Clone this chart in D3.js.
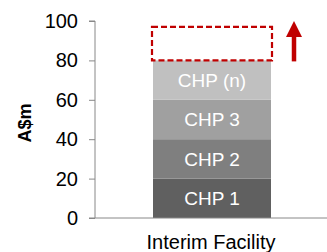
<!DOCTYPE html>
<html><head><meta charset="utf-8">
<script src="https://cdn.jsdelivr.net/npm/d3@7"></script>
<style>body{margin:0;background:#fff}svg{display:block;font-family:"Liberation Sans",Arial,sans-serif}</style>
</head><body><svg id="c" width="327" height="252"></svg>
<script>
const categories = ["Interim Facility"];
const seriesNames = ["CHP 1","CHP 2","CHP 3","CHP (n)"];
const seriesValues = [20,20,20,20];
const seriesColors = ["#606060","#7f7f7f","#a0a0a0","#c0c0c0"];
const upsideTop = 97;
const arrowTop = 100;
const yTicks = [0,20,40,60,80,100];

const svg = d3.select("#c");
const x0 = 95;
const y = d3.scaleLinear().domain([0,100]).range([218,21]);
const xb = d3.scaleBand().domain(categories).range([153, 271]).padding(0);

let acc = 0;
const segs = seriesValues.map((v,i)=>{const s={name:seriesNames[i],y0:acc,y1:acc+v,color:seriesColors[i]};acc+=v;return s;});

const g = svg.append("g");
g.selectAll("rect.seg").data(segs).join("rect").attr("class","seg")
  .attr("x", xb(categories[0])).attr("width", xb.bandwidth())
  .attr("y", d=>y(d.y1)).attr("height", d=>y(d.y0)-y(d.y1))
  .attr("fill", d=>d.color);
g.selectAll("text.seg").data(segs).join("text").attr("class","seg")
  .attr("x", xb(categories[0])+xb.bandwidth()/2)
  .attr("y", d=>(y(d.y0)+y(d.y1))/2)
  .attr("dy","0.35em").attr("text-anchor","middle")
  .attr("fill","#fff").attr("font-size","19px").text(d=>d.name);

// dashed upside box
g.append("rect")
  .attr("x", xb(categories[0])-1).attr("width", xb.bandwidth()+2)
  .attr("y", y(upsideTop)).attr("height", y(acc)-y(upsideTop))
  .attr("fill","none").attr("stroke","#c00000").attr("stroke-width",2.2)
  .attr("stroke-dasharray","6,3");

// arrow
const ax = 294;
const headTop = y(arrowTop), headBase = y(arrowTop)+16;
g.append("line").attr("x1",ax).attr("x2",ax).attr("y1",y(acc)+1).attr("y2",headBase-2)
  .attr("stroke","#c00000").attr("stroke-width",4.5);
g.append("path").attr("d",`M${ax-8},${headBase}L${ax},${headTop}L${ax+8},${headBase}Z`)
  .attr("fill","#c00000");

// y axis
const yAxis = svg.append("g").attr("transform",`translate(${x0},0)`)
  .call(d3.axisLeft(y).tickValues(yTicks).tickSize(6).tickPadding(11));
yAxis.select(".domain").attr("stroke","#888").attr("d",`M-6,${y(100)}H0V${y(0)}`);
yAxis.selectAll(".tick line").attr("stroke","#888");
yAxis.selectAll(".tick text").attr("font-size","20px").attr("fill","#000").attr("font-family","Liberation Sans, Arial, sans-serif");

// x axis line
svg.append("line").attr("x1",x0-6).attr("x2",327).attr("y1",y(0)).attr("y2",y(0)).attr("stroke","#888");
svg.append("text").attr("x",xb(categories[0])+xb.bandwidth()/2-1).attr("y",249)
  .attr("text-anchor","middle").attr("font-size","20px").attr("fill","#000").text(categories[0]);

svg.append("text").attr("transform","translate(31,123) rotate(-90)")
  .attr("text-anchor","middle").attr("font-size","18px").attr("font-weight","bold").attr("fill","#000").text("A$m");
</script></body></html>
